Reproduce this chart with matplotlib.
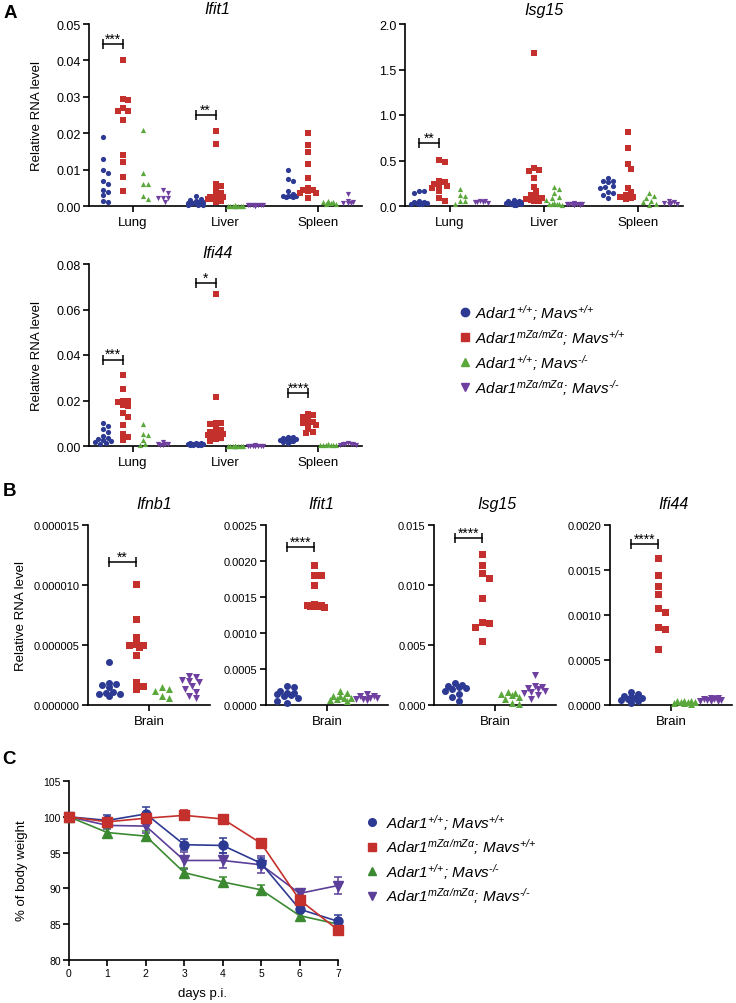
"""
Adar1 mZa / Mavs figure: ISG expression (A, B) and body weight (C)
"""

### Import modules
import numpy as np
import matplotlib
matplotlib.use('Agg')
import matplotlib.pyplot as plt

### Fonts
plt.rcParams['font.family'] = ['Liberation Sans', 'DejaVu Sans']
plt.rcParams['mathtext.fontset'] = 'custom'
plt.rcParams['mathtext.it'] = 'Liberation Sans:italic'
plt.rcParams['mathtext.rm'] = 'Liberation Sans:italic'
plt.rcParams['mathtext.sf'] = 'Liberation Sans'

### Groups
legend_labels = [r'$\text{Adar1}^{\text{+/+}}\text{; Mavs}^{\text{+/+}}$',
                 r'$\text{Adar1}^{\text{mZα/mZα}}\text{; Mavs}^{\text{+/+}}$',
                 r'$\text{Adar1}^{\text{+/+}}\text{; Mavs}^{\text{-/-}}$',
                 r'$\text{Adar1}^{\text{mZα/mZα}}\text{; Mavs}^{\text{-/-}}$']
colors = ['#2d3a94', '#c4302b', '#5aa83c', '#7040a0']
colors_c = ['#2d3a94', '#c4302b', '#3b8a32', '#5b3f98']
markers = ['o', 's', '^', 'v']
tissues = ['Lung', 'Liver', 'Spleen']

### Panel A data (blue, red, green, purple per tissue)
ifit1_lung = [[0.019, 0.013, 0.010, 0.009, 0.007, 0.006, 0.0045, 0.0038, 0.003, 0.0013, 0.001],
              [0.040, 0.0295, 0.029, 0.0268, 0.026, 0.026, 0.0235, 0.014, 0.012, 0.008, 0.004],
              [0.021, 0.009, 0.006, 0.006, 0.0028, 0.0018],
              [0.0045, 0.0035, 0.0022, 0.0022, 0.0022, 0.0012]]
ifit1_liver = [[0.0027, 0.002, 0.0017, 0.0015, 0.0012, 0.001, 0.0009, 0.0008, 0.0007, 0.0005, 0.0004, 0.0003, 0.0002, 0.0006],
               [0.0205, 0.017, 0.006, 0.0055, 0.0045, 0.0035, 0.003, 0.0025, 0.0025, 0.0022, 0.002, 0.002, 0.0018, 0.0015, 0.0012],
               [0.0002, 0.0001, 0.0001, 0.0001, 0.0001, 0.00005, 0.00005, 0.0001, 0.00008, 0.0001],
               [0.0003, 0.0002, 0.0002, 0.0002, 0.0001, 0.0002, 0.00015, 0.0001, 0.0002]]
ifit1_spleen = [[0.0098, 0.0075, 0.007, 0.0042, 0.0033, 0.0028, 0.0027, 0.0027, 0.0026, 0.0026, 0.0027],
                [0.020, 0.0168, 0.0147, 0.0115, 0.0078, 0.005, 0.0045, 0.0043, 0.004, 0.0036, 0.0035, 0.0022],
                [0.0015, 0.0012, 0.001, 0.0008, 0.0006, 0.0005, 0.0008],
                [0.0032, 0.0015, 0.001, 0.0008, 0.0008, 0.0008]]

isg15_lung = [[0.17, 0.16, 0.14, 0.05, 0.04, 0.035, 0.03, 0.03, 0.025, 0.02, 0.02, 0.04],
              [0.505, 0.485, 0.275, 0.265, 0.24, 0.23, 0.22, 0.195, 0.17, 0.09, 0.055],
              [0.185, 0.12, 0.105, 0.06, 0.05, 0.02],
              [0.05, 0.05, 0.045, 0.04, 0.04, 0.035]]
isg15_liver = [[0.07, 0.06, 0.05, 0.045, 0.04, 0.04, 0.035, 0.03, 0.03, 0.025, 0.025, 0.02, 0.02, 0.015, 0.01, 0.03],
               [1.68, 0.42, 0.40, 0.38, 0.31, 0.21, 0.16, 0.12, 0.10, 0.09, 0.08, 0.08, 0.07, 0.07, 0.06, 0.05],
               [0.21, 0.19, 0.14, 0.10, 0.09, 0.07, 0.03, 0.02, 0.02, 0.02, 0.02, 0.01],
               [0.03, 0.025, 0.02, 0.02, 0.02, 0.02, 0.015, 0.015, 0.02, 0.01]]
isg15_spleen = [[0.305, 0.28, 0.27, 0.26, 0.22, 0.21, 0.20, 0.15, 0.14, 0.12, 0.09],
                [0.81, 0.64, 0.46, 0.41, 0.20, 0.15, 0.12, 0.10, 0.10, 0.09, 0.09, 0.08],
                [0.14, 0.11, 0.09, 0.06, 0.04, 0.02, 0.01],
                [0.05, 0.04, 0.03, 0.03, 0.02, 0.02]]

ifi44_lung = [[0.010, 0.0088, 0.0075, 0.006, 0.0045, 0.0035, 0.003, 0.0025, 0.0022, 0.0018, 0.0012, 0.001],
              [0.031, 0.025, 0.020, 0.0197, 0.0195, 0.018, 0.0175, 0.0145, 0.0128, 0.0093, 0.0052, 0.004, 0.0027],
              [0.0098, 0.0052, 0.0049, 0.0027, 0.0008, 0.0006],
              [0.0019, 0.001, 0.001, 0.001, 0.0006, 0.0006]]
ifi44_liver = [[0.0015, 0.0012, 0.0011, 0.001, 0.001, 0.0009, 0.0008, 0.0007, 0.0006, 0.0005, 0.0005, 0.0004],
               [0.067, 0.0216, 0.0103, 0.010, 0.0096, 0.008, 0.0069, 0.0063, 0.006, 0.0054, 0.0048, 0.0044, 0.0037, 0.003, 0.0024, 0.005],
               [0.0002, 0.0002, 0.0001, 0.0001, 0.0002, 0.0001, 0.0001, 0.0002, 0.0001, 0.0001],
               [0.0003, 0.0002, 0.0002, 0.0002, 0.0002, 0.0001, 0.0002, 0.0002, 0.0001]]
ifi44_spleen = [[0.004, 0.0038, 0.0035, 0.0033, 0.003, 0.003, 0.0028, 0.0025, 0.0022, 0.002, 0.0018, 0.0015],
                [0.014, 0.0138, 0.0129, 0.0118, 0.0106, 0.0101, 0.0098, 0.0093, 0.0075, 0.006, 0.0056],
                [0.0008, 0.0006, 0.0005, 0.0004, 0.0004, 0.0003, 0.0003],
                [0.0012, 0.001, 0.0009, 0.0008, 0.0007, 0.0006, 0.0006]]

### Panel B data (brain)
ifnb1_brain = [[3.6e-6, 1.85e-6, 1.75e-6, 1.7e-6, 1.5e-6, 1.05e-6, 1.0e-6, 0.95e-6, 0.9e-6, 0.75e-6],
               [10.1e-6, 7.2e-6, 5.7e-6, 5.1e-6, 5.0e-6, 5.0e-6, 4.8e-6, 4.15e-6, 1.9e-6, 1.6e-6, 1.35e-6],
               [1.5e-6, 1.3e-6, 1.2e-6, 0.75e-6, 0.6e-6],
               [2.4e-6, 2.3e-6, 2.1e-6, 2.0e-6, 1.95e-6, 1.55e-6, 1.3e-6, 1.1e-6, 0.75e-6, 0.55e-6]]
ifit1_brain = [[0.00027, 0.00025, 0.0002, 0.00017, 0.00016, 0.00015, 0.00014, 0.00012, 0.0001, 0.00006, 0.00003],
               [0.00194, 0.0018, 0.0018, 0.00166, 0.0014, 0.00139, 0.00139, 0.00138, 0.00138, 0.00136],
               [0.0002, 0.00016, 0.00013, 0.00012, 0.0001, 0.0001, 0.00008, 0.00007, 0.00005],
               [0.00015, 0.00013, 0.00012, 0.0001, 0.0001, 0.00009, 0.00008, 0.00007]]
isg15_brain = [[0.0018, 0.0017, 0.0016, 0.0015, 0.0014, 0.0013, 0.0012, 0.0009, 0.0007, 0.0003],
               [0.01256, 0.01164, 0.011, 0.0106, 0.0089, 0.0069, 0.0068, 0.0065, 0.0053],
               [0.0011, 0.001, 0.0009, 0.0008, 0.0007, 0.0005, 0.0002, 0.0001],
               [0.0025, 0.0016, 0.0015, 0.0014, 0.0013, 0.0012, 0.0011, 0.001, 0.0008, 0.0005]]
ifi44_brain = [[0.00014, 0.00012, 0.0001, 0.00009, 0.00008, 0.00008, 0.00007, 0.00006, 0.00004, 0.00002],
               [0.00163, 0.00144, 0.00132, 0.00123, 0.00108, 0.00103, 0.00087, 0.00084, 0.00062],
               [0.00005, 0.00004, 0.00004, 0.00003, 0.00003, 0.00002, 0.00002, 0.00001, 0.00003],
               [0.00008, 0.00008, 0.00007, 0.00007, 0.00006, 0.00006, 0.00005, 0.00005, 0.00004]]

### Significance (tissue index, height, label)
sig_ifit1 = [(0, 0.0445, '***'), (1, 0.0249, '**')]
sig_isg15 = [(0, 0.69, '**')]
sig_ifi44 = [(0, 0.038, '***'), (1, 0.0716, '*'), (2, 0.0231, '****')]
sig_brain = [(11.9e-6, '**'), (0.00219, '****'), (0.0139, '****'), (0.00179, '****')]

### Y ticks
yt_ifit1 = [0, 0.01, 0.02, 0.03, 0.04, 0.05]
yl_ifit1 = ['0.00', '0.01', '0.02', '0.03', '0.04', '0.05']
yt_isg15 = [0, 0.5, 1.0, 1.5, 2.0]
yl_isg15 = ['0.0', '0.5', '1.0', '1.5', '2.0']
yt_ifi44 = [0, 0.02, 0.04, 0.06, 0.08]
yl_ifi44 = ['0.00', '0.02', '0.04', '0.06', '0.08']
yt_ifnb1_b = [0, 5e-6, 10e-6, 15e-6]
yl_ifnb1_b = ['0.000000', '0.000005', '0.000010', '0.000015']
yt_ifit1_b = [0, 0.0005, 0.001, 0.0015, 0.002, 0.0025]
yl_ifit1_b = ['0.0000', '0.0005', '0.0010', '0.0015', '0.0020', '0.0025']
yt_isg15_b = [0, 0.005, 0.010, 0.015]
yl_isg15_b = ['0.000', '0.005', '0.010', '0.015']
yt_ifi44_b = [0, 0.0005, 0.001, 0.0015, 0.002]
yl_ifi44_b = ['0.0000', '0.0005', '0.0010', '0.0015', '0.0020']
yt_weight = [80, 85, 90, 95, 100, 105]

### Panel C data (% body weight, mean and error)
days = [0, 1, 2, 3, 4, 5, 6, 7]
weight_mean = [[100, 99.5, 100.4, 96.1, 96.0, 93.5, 87.1, 85.4],
               [100, 99.3, 99.8, 100.2, 99.7, 96.3, 88.4, 84.2],
               [100, 97.8, 97.3, 92.2, 90.9, 89.8, 86.2, 85.0],
               [100, 98.8, 98.7, 93.9, 93.9, 93.3, 89.3, 90.4]]
weight_err = [[0, 0.7, 0.9, 0.8, 1.0, 0.7, 0.5, 0.9],
              [0, 0.4, 0.4, 0.7, 0.6, 0.6, 0.7, 0.5],
              [0, 0.6, 0.7, 0.7, 0.7, 0.7, 0.7, 0.4],
              [0, 0.5, 1.0, 1.2, 1.0, 1.2, 0.5, 1.2]]

###############################################################################
###############################################################################
###############################################################################
W, H = 736, 1004
fig = plt.figure(figsize=(7.36, 10.04), dpi=100)

def box(l, t, r, b):
    return [l / W, 1 - b / H, (r - l) / W, (b - t) / H]

over = fig.add_axes([0, 0, 1, 1])
over.set_xlim(0, W)
over.set_ylim(H, 0)
over.axis('off')

def style(ax, yt, yl, ylim, ysize):
    for s in ['top', 'right']:
        ax.spines[s].set_visible(False)
    for s in ['left', 'bottom']:
        ax.spines[s].set_linewidth(1.2)
    ax.tick_params(direction='out', length=4, width=1.2, labelsize=ysize, pad=2)
    ax.tick_params(axis='x', labelsize=9.5, pad=3)
    ax.set_yticks(yt)
    ax.set_yticklabels(yl)
    ax.set_ylim(ylim)

def swarm(ax, xc, vals, color, marker, d):
    vals = np.asarray(vals, float)
    tr = ax.transData
    py = tr.transform(np.column_stack([np.full(len(vals), xc), vals]))[:, 1]
    pxu = tr.transform((1, 0))[0] - tr.transform((0, 0))[0]
    maxoff = 0.5 * pxu
    cands = [0.0]
    k = 1
    while k * 0.5 * d <= maxoff:
        cands += [k * 0.5 * d, -k * 0.5 * d]
        k += 1
    xs = np.zeros(len(vals))
    placed = []
    for i in np.argsort(-vals):
        best, bestd = 0.0, -1
        for ox in cands:
            md = min([np.hypot(ox - a, py[i] - b) for a, b in placed] + [1e9])
            if md >= 0.9 * d:
                best = ox
                break
            if md > bestd + 0.5:
                best, bestd = ox, md
        placed.append((best, py[i]))
        xs[i] = xc + best / pxu
    ax.scatter(xs, vals, s=(d * 0.72) ** 2, marker=marker, color=color,
               linewidths=0, clip_on=False, zorder=3)

def sig(ax, x1, x2, y, txt):
    ax.plot([x1, x2], [y, y], color='k', lw=1.1, clip_on=False)
    ax.plot([x1, x2], [y, y], ls='none', marker='|', ms=7, mew=1.1,
            color='k', clip_on=False)
    ax.annotate(txt, ((x1 + x2) / 2, y), xytext=(0, 1), textcoords='offset points',
                ha='center', va='baseline', fontsize=10, annotation_clip=False)

offs = [-1.5, -0.5, 0.5, 1.5]

### Panel A
step = 4.65
panelA = [('Ifit1', (89, 25, 362, 207), [ifit1_lung, ifit1_liver, ifit1_spleen],
           yt_ifit1, yl_ifit1, sig_ifit1, (217, 10)),
          ('Isg15', (405, 25, 683, 207), [isg15_lung, isg15_liver, isg15_spleen],
           yt_isg15, yl_isg15, sig_isg15, (544, 10)),
          ('Ifi44', (89, 265, 362, 447), [ifi44_lung, ifi44_liver, ifi44_spleen],
           yt_ifi44, yl_ifi44, sig_ifi44, (217, 253))]
for gene, rect, data, yt, yl, sigs, tpos in panelA:
    ax = fig.add_axes(box(*rect))
    ax.set_xlim(-2.2, 2 * step + 2.2)
    style(ax, yt, yl, (0, yt[-1]), 9)
    ax.set_xticks([i * step for i in range(3)])
    ax.set_xticklabels(tissues)
    for i, tdata in enumerate(data):
        for j in range(4):
            swarm(ax, i * step + offs[j], tdata[j], colors[j], markers[j], 5.2)
    for ti, y, txt in sigs:
        sig(ax, ti * step + offs[0], ti * step + offs[1], y, txt)
    over.text(tpos[0], tpos[1], gene, fontsize=11.5, style='italic',
              ha='center', va='center')

over.text(37, 116, 'Relative RNA level', fontsize=9.5, rotation=90, ha='center', va='center')
over.text(37, 356, 'Relative RNA level', fontsize=9.5, rotation=90, ha='center', va='center')

### Legend A
for j in range(4):
    y = 313 + 25 * j
    over.plot(465, y, marker=markers[j], ms=6, color=colors[j], ls='none')
    over.text(475, y, legend_labels[j], fontsize=11, ha='left', va='center')

### Panel B
panelB = [('Ifnb1', ifnb1_brain, yt_ifnb1_b, yl_ifnb1_b, 149, 154),
          ('Ifit1', ifit1_brain, yt_ifit1_b, yl_ifit1_b, 327, 321),
          ('Isg15', isg15_brain, yt_isg15_b, yl_isg15_b, 495, 497),
          ('Ifi44', ifi44_brain, yt_ifi44_b, yl_ifi44_b, 671, 673)]
for k, (gene, data, yt, yl, xc, tx) in enumerate(panelB):
    ax = fig.add_axes(box(xc - 61, 526, xc + 61, 706))
    ax.set_xlim(-2.3, 2.3)
    style(ax, yt, yl, (0, yt[-1]), 8)
    ax.set_xticks([0])
    ax.set_xticklabels(['Brain'])
    for j in range(4):
        swarm(ax, offs[j], data[j], colors[j], markers[j], 7)
    sig(ax, offs[0], offs[1], sig_brain[k][0], sig_brain[k][1])
    over.text(tx, 505, gene, fontsize=11.5, style='italic', ha='center', va='center')

over.text(21, 616, 'Relative RNA level', fontsize=9.5, rotation=90, ha='center', va='center')

### Panel C
ax = fig.add_axes(box(69, 782, 338, 961))
style(ax, yt_weight, [str(v) for v in yt_weight], (80, 105), 7.5)
ax.tick_params(axis='x', labelsize=7.5, pad=1.5)
ax.set_xlim(0, 7)
ax.set_xticks(days)
for j in [3, 2, 0, 1]:
    ax.errorbar(days, weight_mean[j], yerr=weight_err[j], color=colors_c[j],
                marker=markers[j], ms=6.5, lw=1.2, elinewidth=1.1, capsize=3,
                capthick=1.1, ecolor=colors_c[j], clip_on=False, zorder=3)
over.text(203, 994, 'days p.i.', fontsize=9.5, ha='center', va='center')
over.text(22, 871, '% of body weight', fontsize=9.5, rotation=90, ha='center', va='center')

for j in range(4):
    y = 823 + 24.5 * j
    over.plot(372, y, marker=markers[j], ms=5.5, color=colors_c[j], ls='none')
    over.text(386, y, legend_labels[j], fontsize=11, ha='left', va='center')

### Panel letters
for lab, (x, y) in zip(['A', 'B', 'C'], [(10, 14), (9, 492), (9, 760)]):
    over.text(x, y, lab, fontsize=13.5, fontweight='bold', ha='center', va='center')

plt.savefig('out.png', dpi=100)
